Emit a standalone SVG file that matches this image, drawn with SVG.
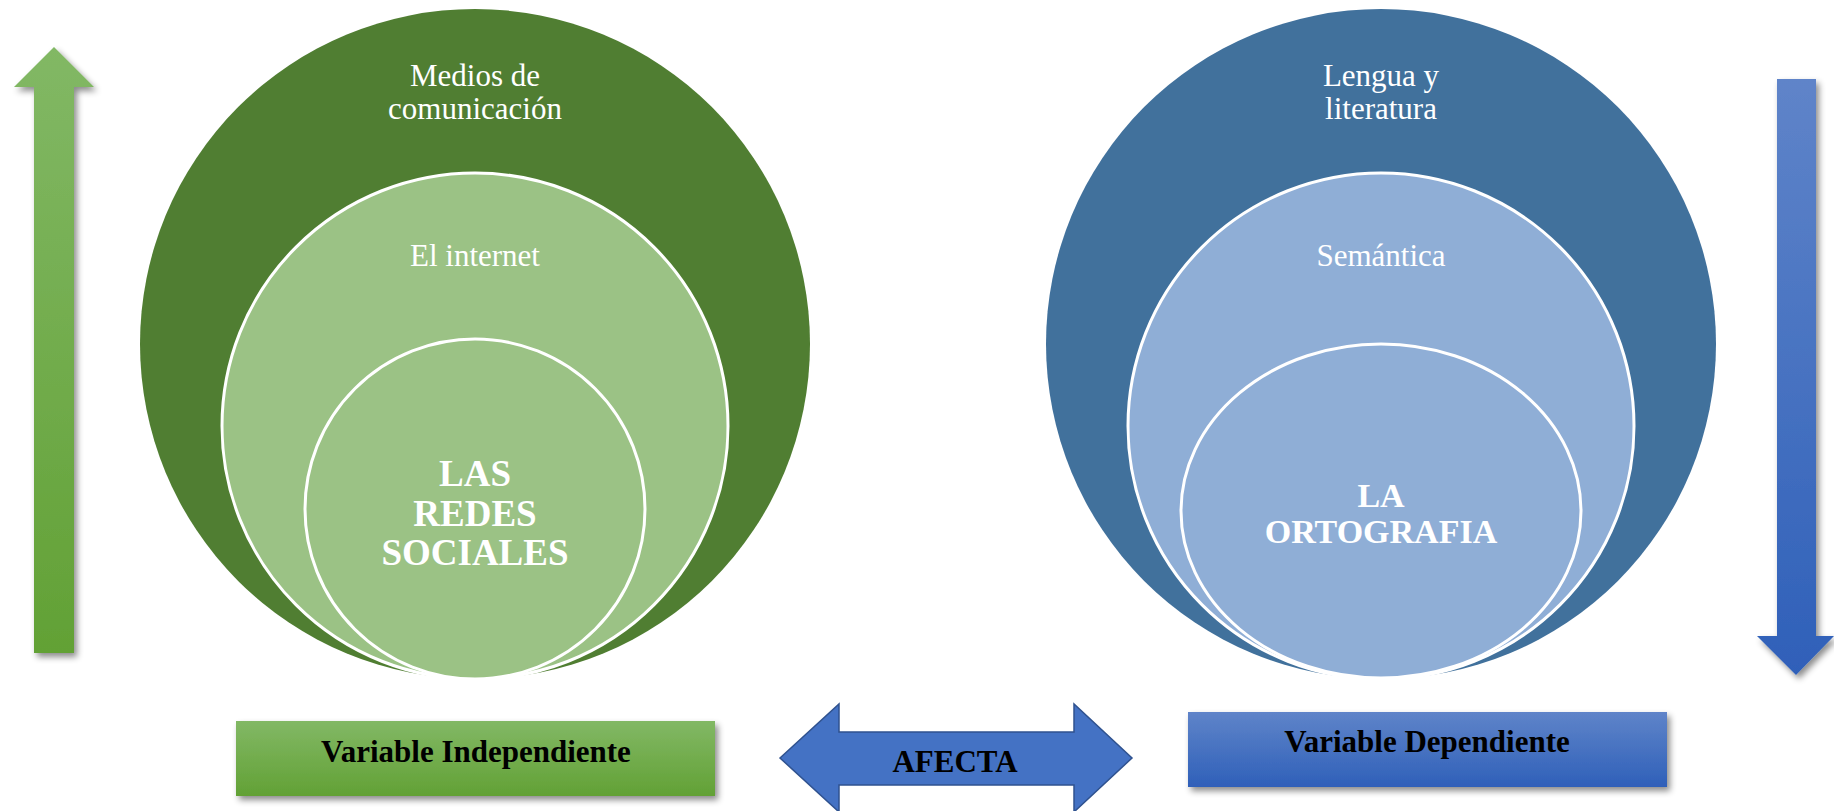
<svg xmlns="http://www.w3.org/2000/svg" width="1834" height="811" viewBox="0 0 1834 811">
<style>
.lbl{font-family:"Liberation Serif","Times New Roman",serif;fill:#ffffff;text-anchor:middle}
.reg{font-size:31px}
.big{font-size:37px;font-weight:bold}
.big2{font-size:34px;font-weight:bold}
.box{font-family:"Liberation Serif","Times New Roman",serif;font-size:31px;font-weight:bold;fill:#000000;text-anchor:middle}
.ring{stroke:#ffffff;stroke-width:3}
</style>
<defs>
<linearGradient id="gG" x1="0" y1="0" x2="0" y2="1">
<stop offset="0" stop-color="#82B865"/>
<stop offset="1" stop-color="#62A135"/>
</linearGradient>
<linearGradient id="gB" x1="0" y1="0" x2="0" y2="1">
<stop offset="0" stop-color="#5F84C9"/>
<stop offset="1" stop-color="#2F60B9"/>
</linearGradient>
<filter id="sh" x="-30%" y="-10%" width="160%" height="130%">
<feDropShadow dx="3" dy="4" stdDeviation="3" flood-color="#000000" flood-opacity="0.45"/>
</filter>
</defs>

<g id="arrow-up">
<polygon points="54,47 94,87 74,87 74,653 34,653 34,87 14,87" fill="url(#gG)" filter="url(#sh)"/>
</g>
<g id="arrow-down">
<polygon points="1777,79 1816,79 1816,636 1834,636 1796,675 1757,636 1777,636" fill="url(#gB)" filter="url(#sh)"/>
</g>

<g id="left-circles">
<g id="medios">
<circle cx="475" cy="344" r="335" fill="#507E32"/>
<text class="lbl reg" x="475" y="86">Medios de</text>
<text class="lbl reg" x="475" y="119">comunicación</text>
</g>
<g id="internet">
<circle class="ring" cx="475" cy="426" r="253" fill="#9BC285"/>
<text class="lbl reg" x="475" y="266">El internet</text>
</g>
<g id="redes">
<circle class="ring" cx="475" cy="509" r="170" fill="#9BC285"/>
<text class="lbl big" x="475" y="486">LAS</text>
<text class="lbl big" x="475" y="526">REDES</text>
<text class="lbl big" x="475" y="565">SOCIALES</text>
</g>
</g>

<g id="right-circles">
<g id="lengua">
<circle cx="1381" cy="344" r="335" fill="#41719C"/>
<text class="lbl reg" x="1381" y="86">Lengua y</text>
<text class="lbl reg" x="1381" y="119">literatura</text>
</g>
<g id="semantica">
<circle class="ring" cx="1381" cy="426" r="253" fill="#8FAED6"/>
<text class="lbl reg" x="1381" y="266">Semántica</text>
</g>
<g id="ortografia">
<ellipse class="ring" cx="1381" cy="511" rx="200" ry="167" fill="#8FAED6"/>
<text class="lbl big2" x="1381" y="507">LA</text>
<text class="lbl big2" x="1381" y="543">ORTOGRAFIA</text>
</g>
</g>

<g id="var-independiente">
<rect x="236" y="721" width="479" height="75" fill="url(#gG)" filter="url(#sh)"/>
<text class="box" x="476" y="762">Variable Independiente</text>
</g>
<g id="var-dependiente">
<rect x="1188" y="712" width="479" height="75" fill="url(#gB)" filter="url(#sh)"/>
<text class="box" x="1427" y="752">Variable Dependiente</text>
</g>

<g id="connectors">
<g id="afecta">
<polygon points="780,758 839,704 839,732 1074,732 1074,704 1132,758 1074,812 1074,785 839,785 839,812" fill="#4472C4" stroke="#2F528F" stroke-width="1.5"/>
<text class="box" x="955" y="772">AFECTA</text>
</g>
</g>
</svg>
